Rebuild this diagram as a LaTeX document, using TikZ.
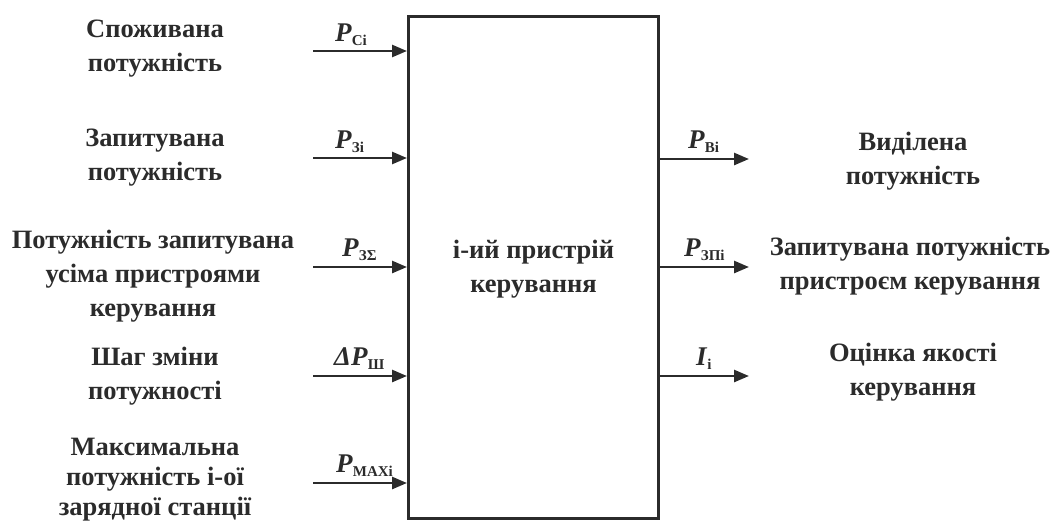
\documentclass[tikz,border=0pt]{standalone}
\usepackage{fontspec}
\setmainfont{Liberation Serif}
\usetikzlibrary{arrows.meta}
\definecolor{ink}{HTML}{2B2B2B}
\newcommand{\sgl}[2]{\textbf{\textit{#1}}\raisebox{-4pt}{\fontsize{15}{15}\selectfont\bfseries #2}}
\begin{document}
\begin{tikzpicture}[x=1pt,y=-1pt,
  txt/.style={font=\bfseries\fontsize{26.5}{34}\selectfont, align=center, text=ink, inner sep=0pt},
  lbl/.style={font=\fontsize{27}{28}\selectfont, text=ink, inner sep=0pt, anchor=base west},
  sig/.style={line width=2.6pt, draw=ink, -{Triangle[length=15pt,width=12pt]}},
  blk/.style={draw=ink, line width=3pt, fill=white}]
\useasboundingbox (0,0) rectangle (1056,520);
\node[blk, minimum width=250pt, minimum height=502pt, anchor=north west] (box) at (407,15) {};
\node[txt] at ([yshift=-2pt]box.center) {і-ий пристрій\\керування};
% inputs
\coordinate (i1) at (313,51);
\coordinate (i2) at (313,158);
\coordinate (i3) at (313,267);
\coordinate (i4) at (313,376);
\coordinate (i5) at (313,483);
\foreach \k in {1,...,5}{\draw[sig] (i\k) -- (i\k -| box.west);}
\node[txt] (t1) at (155,49) {Споживана\\потужність};
\node[txt] (t2) at (155,158) {Запитувана\\потужність};
\node[txt] (t3) at (153,276) {Потужність запитувана\\усіма пристроями\\керування};
\node[txt] (t4) at (155,376) {Шаг зміни\\потужності};
\node[txt, font=\bfseries\fontsize{26.5}{30}\selectfont] (t5) at (155,480) {Максимальна\\потужність і-ої\\зарядної станції};
\node[lbl] (l1) at (335,41) {\sgl{P}{Сі}};
\node[lbl] (l2) at (335,148) {\sgl{P}{Зі}};
\node[lbl] (l3) at (342,256) {\sgl{P}{ЗΣ}};
\node[lbl] (l4) at (334,365) {\sgl{ΔP}{Ш}};
\node[lbl] (l5) at (336,472) {\sgl{P}{MAXi}};
% outputs
\coordinate (o1) at (749,159);
\coordinate (o2) at (749,267);
\coordinate (o3) at (749,376);
\foreach \k in {1,2,3}{\draw[sig] (o\k -| box.east) -- (o\k);}
\node[lbl] (m1) at (688,148) {\sgl{P}{Ві}};
\node[lbl] (m2) at (684,256) {\sgl{P}{ЗПі}};
\node[lbl] (m3) at (696,365) {\sgl{I}{і}};
\node[txt] (r1) at (913,161) {Виділена\\потужність};
\node[txt] (r2) at (910,266) {Запитувана потужність\\пристроєм керування};
\node[txt] (r3) at (913,372) {Оцінка якості\\керування};
\end{tikzpicture}
\end{document}
